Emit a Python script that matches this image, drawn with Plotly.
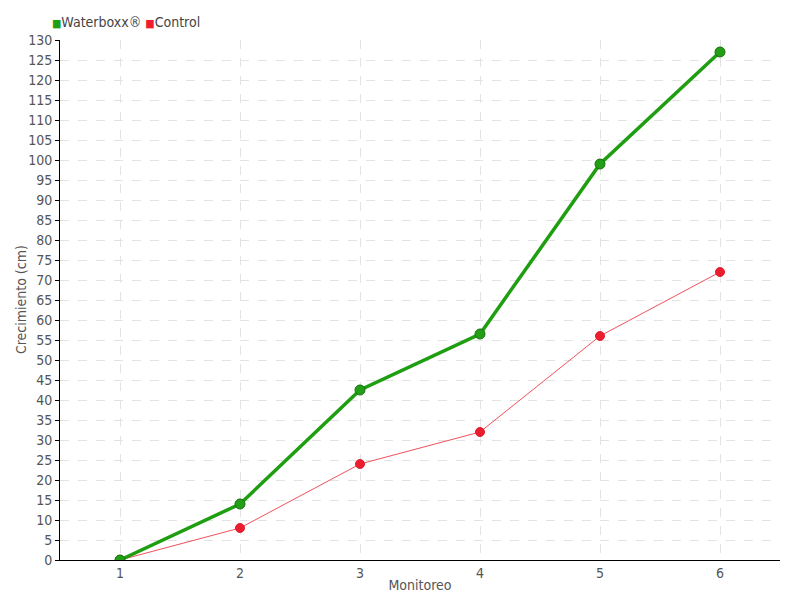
import plotly.graph_objects as go

monitoreo = [1, 2, 3, 4, 5, 6]
waterboxx = [0, 14, 42.5, 56.5, 99, 127]
control = [0, 8, 24, 32, 56, 72]
series_names = ["Waterboxx®", "Control"]
y_title = "Crecimiento (cm)"
x_title = "Monitoreo"

FONT = "DejaVu Sans Condensed, Liberation Sans Narrow, sans-serif"
GREEN = "#1f9e12"
RED = "#ee1c2e"

fig = go.Figure()
fig.add_trace(go.Scatter(x=monitoreo, y=control, mode="lines+markers", name=series_names[1],
                         line=dict(color="#f0505a", width=1),
                         marker=dict(color=RED, size=9, line=dict(color="#d8202c", width=1)),
                         showlegend=False))
fig.add_trace(go.Scatter(x=monitoreo, y=waterboxx, mode="lines+markers", name=series_names[0],
                         line=dict(color=GREEN, width=3.5),
                         marker=dict(color="#22a015", size=10, line=dict(color="#1a6e12", width=1)),
                         showlegend=False))

# compact legend drawn as text
fig.add_annotation(xref="paper", yref="paper", x=-0.014, y=1.0346, xanchor="left", yanchor="middle",
                   showarrow=False, align="left",
                   text=f"<span style='color:{GREEN};font-size:11px'>■</span>{series_names[0]} "
                        f"<span style='color:{RED};font-size:11px'>■</span>{series_names[1]}",
                   font=dict(size=14, color="#444444"))
# y-axis title
fig.add_annotation(xref="paper", yref="paper", x=-0.054, y=0.5, xanchor="center", yanchor="middle",
                   showarrow=False, textangle=-90, text=y_title,
                   font=dict(size=14, color="#555555"))

fig.update_layout(
    width=800, height=600,
    margin=dict(l=52, r=28, t=32, b=48, autoexpand=False),
    paper_bgcolor="white", plot_bgcolor="white",
    font=dict(family=FONT, size=14, color="#555555"),
    showlegend=False,
    xaxis=dict(range=[0.5, 6.5], tickmode="array", tickvals=monitoreo,
               ticktext=[str(v) for v in monitoreo], automargin=False,
               showgrid=True, gridcolor="#e3e3e3", griddash="dash", gridwidth=1,
               showline=True, linecolor="black", linewidth=1,
               ticks="", zeroline=False, ticklabelstandoff=0,
               title=dict(text=x_title, font=dict(size=14, color="#555555"), standoff=0)),
    yaxis=dict(range=[0, 130], dtick=5, tick0=0, automargin=False,
               showgrid=True, gridcolor="#e3e3e3", griddash="dash", gridwidth=1,
               showline=True, linecolor="black", linewidth=1,
               ticks="outside", ticklen=4, tickcolor="black",
               zeroline=False, ticklabelstandoff=0),
)

fig.write_html("out.html")
